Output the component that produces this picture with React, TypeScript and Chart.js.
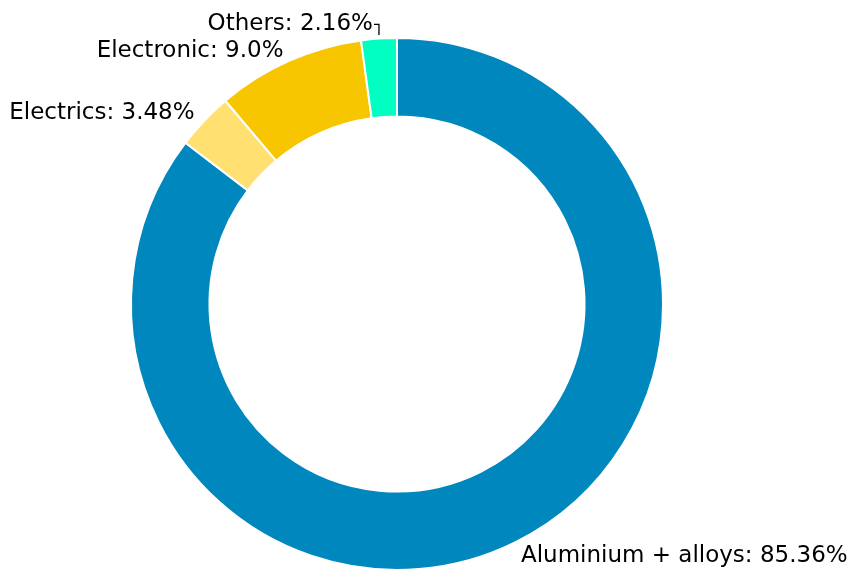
import React, { useEffect, useRef } from "react";
import { Chart, registerables } from "chart.js";

Chart.register(...registerables);

const categories = ["Aluminium + alloys", "Electrics", "Electronic", "Others"];
const shares = [85.36, 3.48, 9.0, 2.16];
const shareLabels = ["85.36%", "3.48%", "9.0%", "2.16%"];
const colors = ["#0088BE", "#FFE070", "#F7C600", "#00FFC0"];

const labelPlugin = {
  id: "outerLabels",
  afterDraw(chart: any) {
    const ctx = chart.ctx;
    const meta = chart.getDatasetMeta(0);
    ctx.save();
    ctx.font = '23px "DejaVu Sans"';
    ctx.fillStyle = "#000";
    ctx.strokeStyle = "#000";
    ctx.lineWidth = 1.3;
    ctx.textBaseline = "middle";
    meta.data.forEach((arc: any, i: number) => {
      const p = arc.getProps(["x", "y", "startAngle", "endAngle", "outerRadius"], true);
      const mid = (p.startAngle + p.endAngle) / 2;
      const r = p.outerRadius * 1.05;
      const c = Math.cos(mid);
      const s = Math.sin(mid);
      const tx = p.x + c * r;
      const ty = p.y + s * r + 2;
      const text = `${categories[i]}: ${shareLabels[i]}`;
      if (Math.abs(c) < 0.1) {
        // callout for the narrow wedge at the top
        const ax = p.x + c * p.outerRadius;
        const ay = p.y + s * p.outerRadius * 1.01;
        const ly = ty - 3;
        ctx.beginPath();
        ctx.moveTo(ax, ay - 1);
        ctx.lineTo(ax, ly);
        ctx.lineTo(ax - 5, ly);
        ctx.stroke();
        ctx.textAlign = "right";
        ctx.fillText(text, ax - 6, ly);
      } else {
        ctx.textAlign = c < 0 ? "right" : "left";
        ctx.fillText(text, tx, ty);
      }
    });
    ctx.restore();
  },
};

export default function App() {
  const ref = useRef<HTMLCanvasElement | null>(null);
  useEffect(() => {
    document.body.style.overflow = "hidden";
    const chart = new Chart(ref.current as HTMLCanvasElement, {
      type: "doughnut",
      data: {
        labels: categories,
        datasets: [
          {
            data: shares,
            backgroundColor: colors,
            borderColor: "#ffffff",
            borderWidth: 2,
          },
        ],
      },
      options: {
        animation: false,
        responsive: true,
        maintainAspectRatio: false,
        cutout: "70.5%",
        layout: { padding: { top: 37, bottom: 29, left: 130, right: 191 } },
        plugins: {
          legend: { display: false },
          tooltip: { enabled: false },
        },
      },
      plugins: [labelPlugin],
    });
    return () => chart.destroy();
  }, []);
  return (
    <div style={{ position: "fixed", left: 0, top: 0, width: 855, height: 600 }}>
      <canvas ref={ref} />
    </div>
  );
}
